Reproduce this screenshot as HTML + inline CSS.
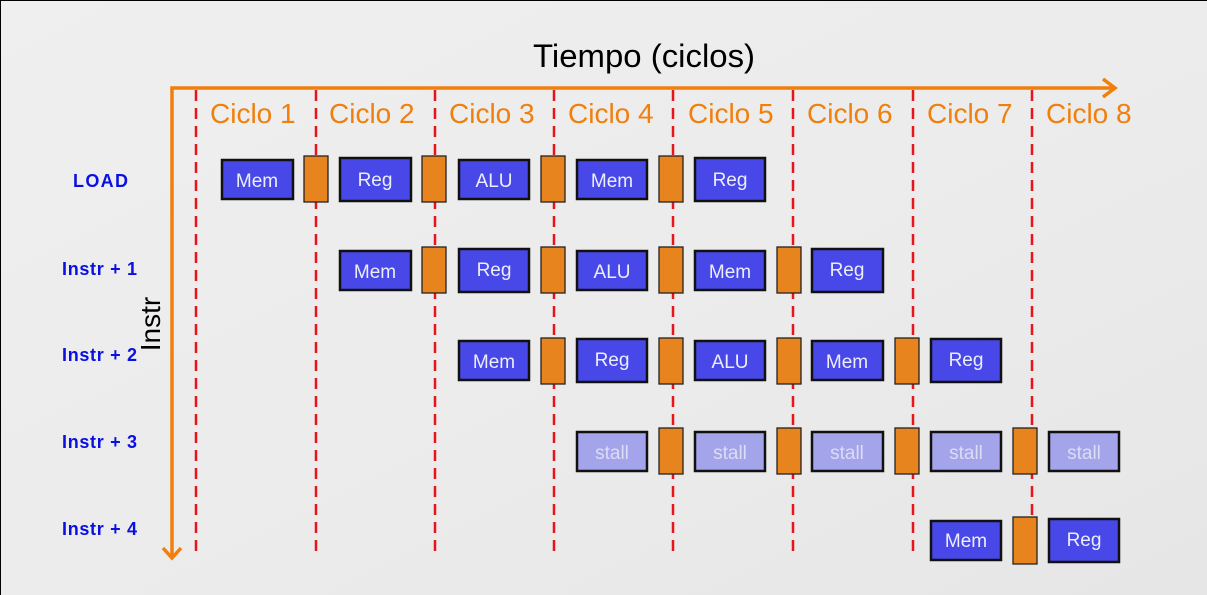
<!DOCTYPE html>
<html><head><meta charset="utf-8"><style>
html,body{margin:0;padding:0;}
body{width:1207px;height:595px;overflow:hidden;background:#ececec;}
svg{display:block;}
text{font-family:"Liberation Sans",sans-serif;}
</style></head><body>
<svg width="1207" height="595" viewBox="0 0 1207 595" xmlns="http://www.w3.org/2000/svg">
<defs>
<linearGradient id="bg" x1="0" y1="0" x2="1" y2="1">
<stop offset="0" stop-color="#efefef"/><stop offset="0.6" stop-color="#ebebeb"/><stop offset="1" stop-color="#e6e6e6"/>
</linearGradient>
</defs>
<rect x="0" y="0" width="1207" height="595" fill="url(#bg)"/>
<path d="M0.5 595 V0.5 H1207" fill="none" stroke="#000" stroke-width="1"/>

<text x="644" y="67" font-size="32" text-anchor="middle" fill="#000" textLength="222" lengthAdjust="spacingAndGlyphs">Tiempo (ciclos)</text>

<g stroke="#e8141c" stroke-width="2.5" stroke-dasharray="11 7">
<line x1="196" y1="90" x2="196" y2="556"/>
<line x1="316" y1="90" x2="316" y2="556"/>
<line x1="435" y1="90" x2="435" y2="556"/>
<line x1="554" y1="90" x2="554" y2="556"/>
<line x1="673" y1="90" x2="673" y2="556"/>
<line x1="793" y1="90" x2="793" y2="556"/>
<line x1="913" y1="90" x2="913" y2="556"/>
<line x1="1032" y1="90" x2="1032" y2="556"/>
</g>

<g stroke="#f07f0c" stroke-width="3.5" fill="none">
<path d="M172 558 V88 H1114"/>
<path d="M1103 79 L1115 88 L1103 97"/>
<path d="M163 548 L172 558 L181 548"/>
</g>

<g font-size="28" fill="#f07f0c">
<text x="210" y="123">Ciclo 1</text>
<text x="329" y="123">Ciclo 2</text>
<text x="449" y="123">Ciclo 3</text>
<text x="568" y="123">Ciclo 4</text>
<text x="688" y="123">Ciclo 5</text>
<text x="807" y="123">Ciclo 6</text>
<text x="927" y="123">Ciclo 7</text>
<text x="1046" y="123">Ciclo 8</text>
</g>

<text transform="translate(160,324) rotate(-90)" font-size="28" text-anchor="middle" fill="#000">Instr</text>

<g font-size="18" font-weight="bold" fill="#0a10e0" lengthAdjust="spacingAndGlyphs">
<text x="73" y="187" textLength="55">LOAD</text>
<text x="62" y="275" textLength="75">Instr + 1</text>
<text x="62" y="361" textLength="75">Instr + 2</text>
<text x="62" y="448" textLength="75">Instr + 3</text>
<text x="62" y="535" textLength="75">Instr + 4</text>
</g>

<!-- latches -->
<g fill="#e8841e" stroke="#222" stroke-width="1.3">
<rect x="304" y="156" width="24" height="46"/>
<rect x="422" y="156" width="24" height="46"/>
<rect x="541" y="156" width="24" height="46"/>
<rect x="659" y="156" width="24" height="46"/>

<rect x="422" y="247" width="24" height="46"/>
<rect x="541" y="247" width="24" height="46"/>
<rect x="659" y="247" width="24" height="46"/>
<rect x="777" y="247" width="24" height="46"/>

<rect x="541" y="338" width="24" height="46"/>
<rect x="659" y="338" width="24" height="46"/>
<rect x="777" y="338" width="24" height="46"/>
<rect x="895" y="338" width="24" height="46"/>

<rect x="659" y="428" width="24" height="46"/>
<rect x="777" y="428" width="24" height="46"/>
<rect x="895" y="428" width="24" height="46"/>
<rect x="1013" y="428" width="24" height="46"/>

<rect x="1013" y="517" width="24" height="47"/>
</g>

<!-- blue boxes -->
<g fill="#4848e8" stroke="#111" stroke-width="2.5">
<rect x="222" y="160" width="71" height="39"/>
<rect x="340" y="158" width="71" height="43"/>
<rect x="459" y="160" width="70" height="39"/>
<rect x="577" y="160" width="70" height="39"/>
<rect x="695" y="158" width="70" height="43"/>

<rect x="340" y="251" width="71" height="39"/>
<rect x="459" y="249" width="70" height="43"/>
<rect x="577" y="251" width="70" height="39"/>
<rect x="695" y="251" width="70" height="39"/>
<rect x="812" y="249" width="71" height="43"/>

<rect x="459" y="341" width="70" height="39"/>
<rect x="577" y="339" width="70" height="43"/>
<rect x="695" y="341" width="70" height="39"/>
<rect x="812" y="341" width="71" height="39"/>
<rect x="931" y="339" width="70" height="43"/>

<rect x="931" y="521" width="70" height="39"/>
<rect x="1049" y="519" width="70" height="43"/>
</g>
<g fill="#a4a4ea" stroke="#111" stroke-width="2.5">
<rect x="577" y="432" width="70" height="39"/>
<rect x="695" y="432" width="70" height="39"/>
<rect x="812" y="432" width="71" height="39"/>
<rect x="931" y="432" width="70" height="39"/>
<rect x="1049" y="432" width="70" height="39"/>
</g>

<g font-size="19" fill="#eceef8" text-anchor="middle">
<text x="257" y="187">Mem</text>
<text x="375" y="186">Reg</text>
<text x="494" y="187">ALU</text>
<text x="612" y="187">Mem</text>
<text x="730" y="186">Reg</text>

<text x="375" y="278">Mem</text>
<text x="494" y="276">Reg</text>
<text x="612" y="278">ALU</text>
<text x="730" y="278">Mem</text>
<text x="847" y="276">Reg</text>

<text x="494" y="368">Mem</text>
<text x="612" y="366">Reg</text>
<text x="730" y="368">ALU</text>
<text x="847" y="368">Mem</text>
<text x="966" y="366">Reg</text>

<text x="966" y="547">Mem</text>
<text x="1084" y="546">Reg</text>
</g>
<g font-size="19" fill="#dcdcf4" text-anchor="middle">
<text x="612" y="459">stall</text>
<text x="730" y="459">stall</text>
<text x="847" y="459">stall</text>
<text x="966" y="459">stall</text>
<text x="1084" y="459">stall</text>
</g>
</svg>
</body></html>
